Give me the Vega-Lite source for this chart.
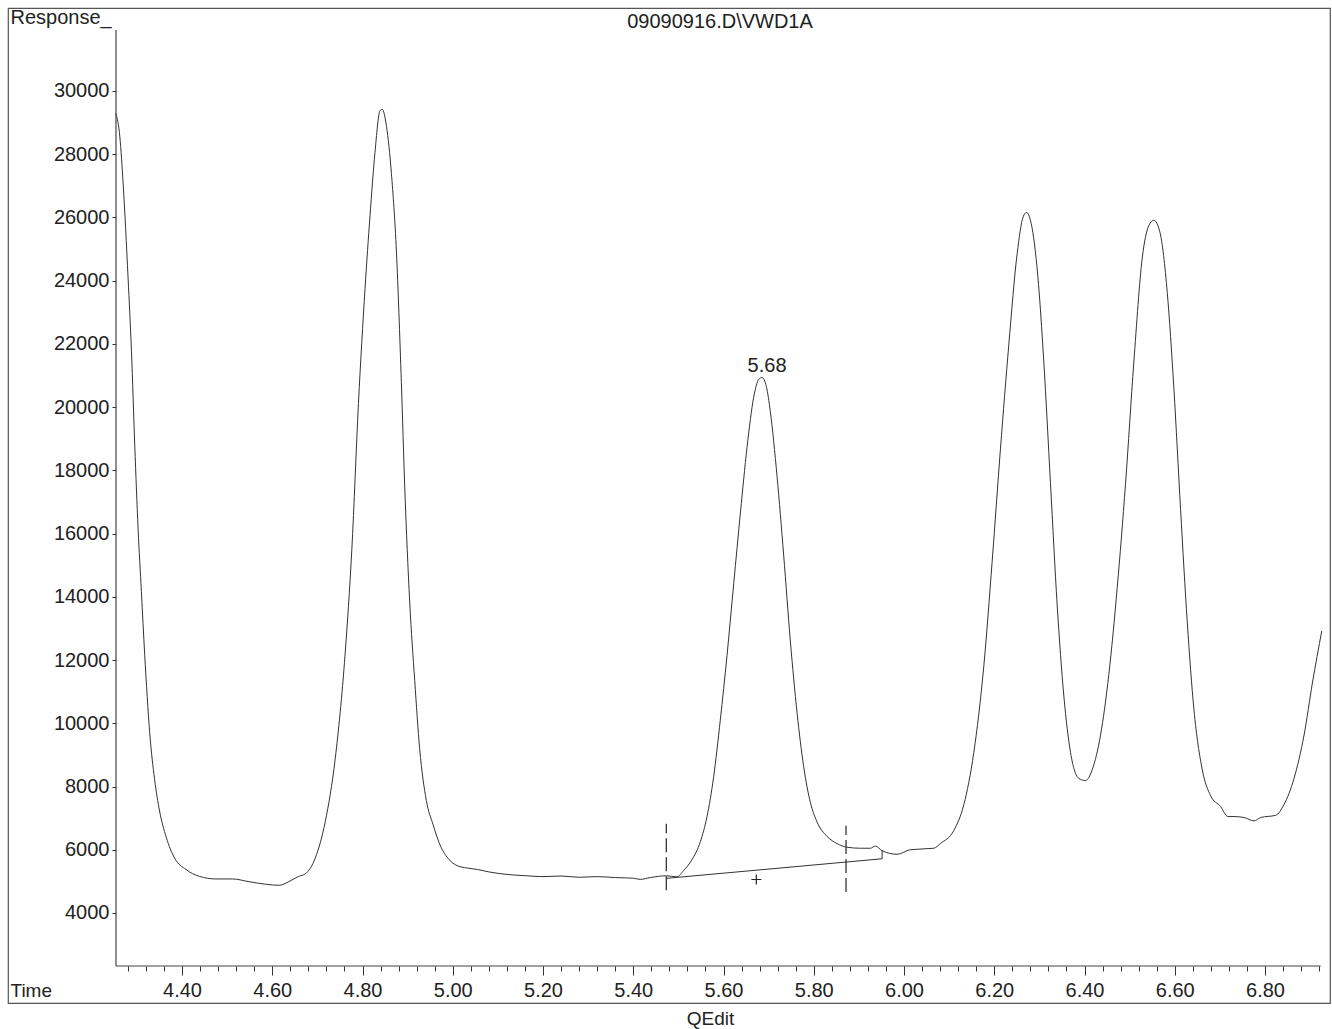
{
  "$schema": "https://vega.github.io/schema/vega-lite/v6.json",
  "width": 1322,
  "height": 995,
  "autosize": {"type": "none"},
  "padding": {"left": 8, "top": 8, "right": 2, "bottom": 26},
  "background": "white",
  "config": {
    "view": {"stroke": "#555", "strokeWidth": 1.2},
    "font": "Liberation Sans",
    "axis": {"labelFont": "Liberation Sans", "titleFont": "Liberation Sans", "labelColor": "#222", "titleColor": "#222", "tickColor": "#333", "grid": false, "domain": false}
  },
  "title": {
    "text": "09090916.D\\VWD1A",
    "orient": "top",
    "anchor": "middle",
    "frame": "group",
    "dx": 51,
    "dy": 20,
    "offset": -21,
    "baseline": "alphabetic",
    "fontSize": 20,
    "fontWeight": "normal",
    "font": "Liberation Sans",
    "color": "#222"
  },
  "datasets": {
    "curve": [
      {"t": 4.2534, "v": 29290}, {"t": 4.2623, "v": 28545}, {"t": 4.2696, "v": 27058}, {"t": 4.2805, "v": 24083},
      {"t": 4.2880, "v": 21770}, {"t": 4.2953, "v": 18793}, {"t": 4.3027, "v": 16150}, {"t": 4.3100, "v": 14167},
      {"t": 4.3173, "v": 12183}, {"t": 4.3284, "v": 9704}, {"t": 4.3393, "v": 8217}, {"t": 4.3503, "v": 7225},
      {"t": 4.3650, "v": 6400}, {"t": 4.3834, "v": 5738}, {"t": 4.4090, "v": 5375}, {"t": 4.4384, "v": 5160},
      {"t": 4.4751, "v": 5077}, {"t": 4.5120, "v": 5077}, {"t": 4.5486, "v": 4990}, {"t": 4.5854, "v": 4910},
      {"t": 4.6147, "v": 4876}, {"t": 4.6366, "v": 4990}, {"t": 4.6588, "v": 5160}, {"t": 4.6734, "v": 5240},
      {"t": 4.6953, "v": 5738}, {"t": 4.7175, "v": 6893}, {"t": 4.7395, "v": 8876}, {"t": 4.7614, "v": 12183},
      {"t": 4.7763, "v": 15488}, {"t": 4.7910, "v": 20116}, {"t": 4.8056, "v": 23752}, {"t": 4.8167, "v": 26066},
      {"t": 4.8276, "v": 28050}, {"t": 4.8386, "v": 29372}, {"t": 4.8437, "v": 29421}, {"t": 4.8532, "v": 28876},
      {"t": 4.8641, "v": 27388}, {"t": 4.8752, "v": 24909}, {"t": 4.8861, "v": 20777}, {"t": 4.8936, "v": 17471},
      {"t": 4.9046, "v": 13835}, {"t": 4.9157, "v": 11355}, {"t": 4.9266, "v": 9207}, {"t": 4.9415, "v": 7554},
      {"t": 4.9560, "v": 6810}, {"t": 4.9745, "v": 6066}, {"t": 4.9890, "v": 5738}, {"t": 5.0110, "v": 5490},
      {"t": 5.0406, "v": 5405}, {"t": 5.0550, "v": 5375}, {"t": 5.0800, "v": 5300}, {"t": 5.1200, "v": 5220},
      {"t": 5.1600, "v": 5180}, {"t": 5.2000, "v": 5150}, {"t": 5.2400, "v": 5170}, {"t": 5.2800, "v": 5130},
      {"t": 5.3200, "v": 5150}, {"t": 5.3600, "v": 5120}, {"t": 5.4000, "v": 5100}, {"t": 5.4155, "v": 5063},
      {"t": 5.4377, "v": 5120}, {"t": 5.4732, "v": 5177}, {"t": 5.4970, "v": 5142}, {"t": 5.5116, "v": 5345},
      {"t": 5.5302, "v": 5686}, {"t": 5.5486, "v": 6253}, {"t": 5.5634, "v": 7047}, {"t": 5.5780, "v": 8293},
      {"t": 5.5929, "v": 10108}, {"t": 5.6078, "v": 12148}, {"t": 5.6226, "v": 14416}, {"t": 5.6376, "v": 16683},
      {"t": 5.6521, "v": 18724}, {"t": 5.6669, "v": 20312}, {"t": 5.6780, "v": 20878}, {"t": 5.6854, "v": 20935},
      {"t": 5.6950, "v": 20650}, {"t": 5.7038, "v": 19856}, {"t": 5.7186, "v": 17816}, {"t": 5.7333, "v": 15323},
      {"t": 5.7481, "v": 12603}, {"t": 5.7630, "v": 10332}, {"t": 5.7776, "v": 8633}, {"t": 5.7925, "v": 7497},
      {"t": 5.8073, "v": 6877}, {"t": 5.8295, "v": 6422}, {"t": 5.8517, "v": 6194}, {"t": 5.8739, "v": 6080},
      {"t": 5.9033, "v": 6048}, {"t": 5.9255, "v": 6048}, {"t": 5.9366, "v": 6118}, {"t": 5.9514, "v": 5970},
      {"t": 5.9847, "v": 5857}, {"t": 6.0142, "v": 6002}, {"t": 6.0659, "v": 6048}, {"t": 6.0807, "v": 6198},
      {"t": 6.1104, "v": 6609}, {"t": 6.1326, "v": 7431}, {"t": 6.1547, "v": 9080}, {"t": 6.1769, "v": 11822},
      {"t": 6.1953, "v": 15115}, {"t": 6.2137, "v": 18680}, {"t": 6.2322, "v": 21972}, {"t": 6.2507, "v": 24854},
      {"t": 6.2640, "v": 26018}, {"t": 6.2714, "v": 26157}, {"t": 6.2818, "v": 25812}, {"t": 6.2964, "v": 24167},
      {"t": 6.3098, "v": 21425}, {"t": 6.3246, "v": 17582}, {"t": 6.3394, "v": 13742}, {"t": 6.3542, "v": 10863},
      {"t": 6.3690, "v": 9080}, {"t": 6.3874, "v": 8257}, {"t": 6.4022, "v": 8188}, {"t": 6.4170, "v": 8529},
      {"t": 6.4355, "v": 9627}, {"t": 6.4539, "v": 11547}, {"t": 6.4725, "v": 14292}, {"t": 6.4909, "v": 17582},
      {"t": 6.5093, "v": 21425}, {"t": 6.5279, "v": 24715}, {"t": 6.5426, "v": 25746}, {"t": 6.5537, "v": 25910},
      {"t": 6.5670, "v": 25540}, {"t": 6.5834, "v": 23620}, {"t": 6.5980, "v": 20600}, {"t": 6.6129, "v": 16760},
      {"t": 6.6277, "v": 13195}, {"t": 6.6424, "v": 10450}, {"t": 6.6610, "v": 8529}, {"t": 6.6795, "v": 7707},
      {"t": 6.7017, "v": 7365}, {"t": 6.7178, "v": 7050}, {"t": 6.7312, "v": 7050}, {"t": 6.7534, "v": 7020},
      {"t": 6.7756, "v": 6913}, {"t": 6.7905, "v": 7020}, {"t": 6.8237, "v": 7090}, {"t": 6.8421, "v": 7431},
      {"t": 6.8643, "v": 8257}, {"t": 6.8865, "v": 9627}, {"t": 6.9050, "v": 11275}, {"t": 6.9257, "v": 12920}
    ],
    "baseline": [
      {"i": 1, "t": 5.4732, "v": 5095},
      {"i": 2, "t": 5.9514, "v": 5715},
      {"i": 3, "t": 5.9514, "v": 5990}
    ],
    "cuts": [
      {"t": 5.4732, "v1": 4720, "v2": 6820},
      {"t": 5.8715, "v1": 4665, "v2": 6760}
    ],
    "centre": [
      {"t": 5.6727, "v": 5060}
    ],
    "peaks": [
      {"t": 5.6854, "v": 20935, "label": "5.68"}
    ]
  },
  "layer": [
    {
      "data": {"name": "curve"},
      "mark": {"type": "line", "interpolate": "monotone", "stroke": "#333", "strokeWidth": 1},
      "encoding": {
        "x": {
          "field": "t", "type": "quantitative",
          "scale": {"domain": [4.0144, 6.944], "nice": false, "zero": false},
          "axis": {
            "orient": "bottom", "offset": -37,
            "values": [4.4, 4.6, 4.8, 5.0, 5.2, 5.4, 5.6, 5.8, 6.0, 6.2, 6.4, 6.6, 6.8],
            "format": ".2f", "tickSize": 9, "labelFontSize": 20, "labelBaseline": "alphabetic",
            "labelPadding": 21, "labelFlush": false, "labelOverlap": false,
            "title": "QEdit", "titleX": 702, "titleY": 58, "titleAlign": "center", "titleBaseline": "alphabetic",
            "titleFontSize": 19, "titleFontWeight": "normal"
          }
        },
        "y": {
          "field": "v", "type": "quantitative",
          "scale": {"domain": [1153, 32625], "nice": false, "zero": false},
          "axis": {
            "orient": "left", "offset": -108,
            "values": [4000, 6000, 8000, 10000, 12000, 14000, 16000, 18000, 20000, 22000, 24000, 26000, 28000, 30000],
            "format": "d", "tickSize": 4, "labelFontSize": 20, "labelPadding": 3, "labelFlush": false, "labelOverlap": false,
            "title": "Response_", "titleAngle": 0, "titleX": -106, "titleY": 15, "titleAlign": "left",
            "titleBaseline": "alphabetic", "titleFontSize": 20, "titleFontWeight": "normal"
          }
        }
      }
    },
    {
      "data": {"name": "centre"},
      "mark": {"type": "point", "shape": "M-1,0L1,0M0,-1L0,1", "size": 100, "filled": false, "stroke": "#222", "strokeWidth": 1.2, "opacity": 1},
      "encoding": {
        "x": {
          "field": "t", "type": "quantitative",
          "axis": {
            "orient": "bottom", "offset": -37,
            "values": [4.28, 4.32, 4.36, 4.40, 4.44, 4.48, 4.52, 4.56, 4.60, 4.64, 4.68, 4.72, 4.76, 4.80, 4.84, 4.88, 4.92, 4.96, 5.00, 5.04, 5.08, 5.12, 5.16, 5.20, 5.24, 5.28, 5.32, 5.36, 5.40, 5.44, 5.48, 5.52, 5.56, 5.60, 5.64, 5.68, 5.72, 5.76, 5.80, 5.84, 5.88, 5.92, 5.96, 6.00, 6.04, 6.08, 6.12, 6.16, 6.20, 6.24, 6.28, 6.32, 6.36, 6.40, 6.44, 6.48, 6.52, 6.56, 6.60, 6.64, 6.68, 6.72, 6.76, 6.80, 6.84, 6.88, 6.92],
            "labels": false, "tickSize": 5,
            "title": "Time", "titleX": 2, "titleY": 30, "titleAlign": "left", "titleBaseline": "alphabetic",
            "titleFontSize": 19, "titleFontWeight": "normal"
          }
        },
        "y": {"field": "v", "type": "quantitative", "axis": null}
      }
    },
    {
      "data": {"name": "baseline"},
      "mark": {"type": "line", "stroke": "#333", "strokeWidth": 1},
      "encoding": {
        "x": {"field": "t", "type": "quantitative", "axis": null},
        "y": {"field": "v", "type": "quantitative", "axis": null},
        "order": {"field": "i"}
      }
    },
    {
      "data": {"name": "cuts"},
      "mark": {"type": "rule", "stroke": "#222", "strokeWidth": 1.2, "strokeDash": [14, 5]},
      "encoding": {
        "x": {"field": "t", "type": "quantitative", "axis": null},
        "y": {"field": "v1", "type": "quantitative", "axis": null},
        "y2": {"field": "v2"}
      }
    },
    {
      "data": {"name": "peaks"},
      "mark": {"type": "text", "font": "Liberation Sans", "fontSize": 20, "color": "#222", "align": "center", "baseline": "alphabetic", "dx": 5, "dy": -6},
      "encoding": {
        "x": {"field": "t", "type": "quantitative", "axis": null},
        "y": {"field": "v", "type": "quantitative", "axis": null},
        "text": {"field": "label"}
      }
    },
    {
      "data": {"values": [{}]},
      "mark": {"type": "rule", "stroke": "#444", "strokeWidth": 1.2},
      "encoding": {
        "x": {"datum": 4.2537, "type": "quantitative", "axis": null},
        "y": {"datum": 2324, "type": "quantitative", "axis": null},
        "y2": {"datum": 31929}
      }
    },
    {
      "data": {"values": [{}]},
      "mark": {"type": "rule", "stroke": "#444", "strokeWidth": 1.2},
      "encoding": {
        "x": {"datum": 4.2537, "type": "quantitative", "axis": null},
        "x2": {"datum": 6.9233},
        "y": {"datum": 2324, "type": "quantitative", "axis": null}
      }
    }
  ],
  "resolve": {"axis": {"x": "independent", "y": "independent"}}
}
